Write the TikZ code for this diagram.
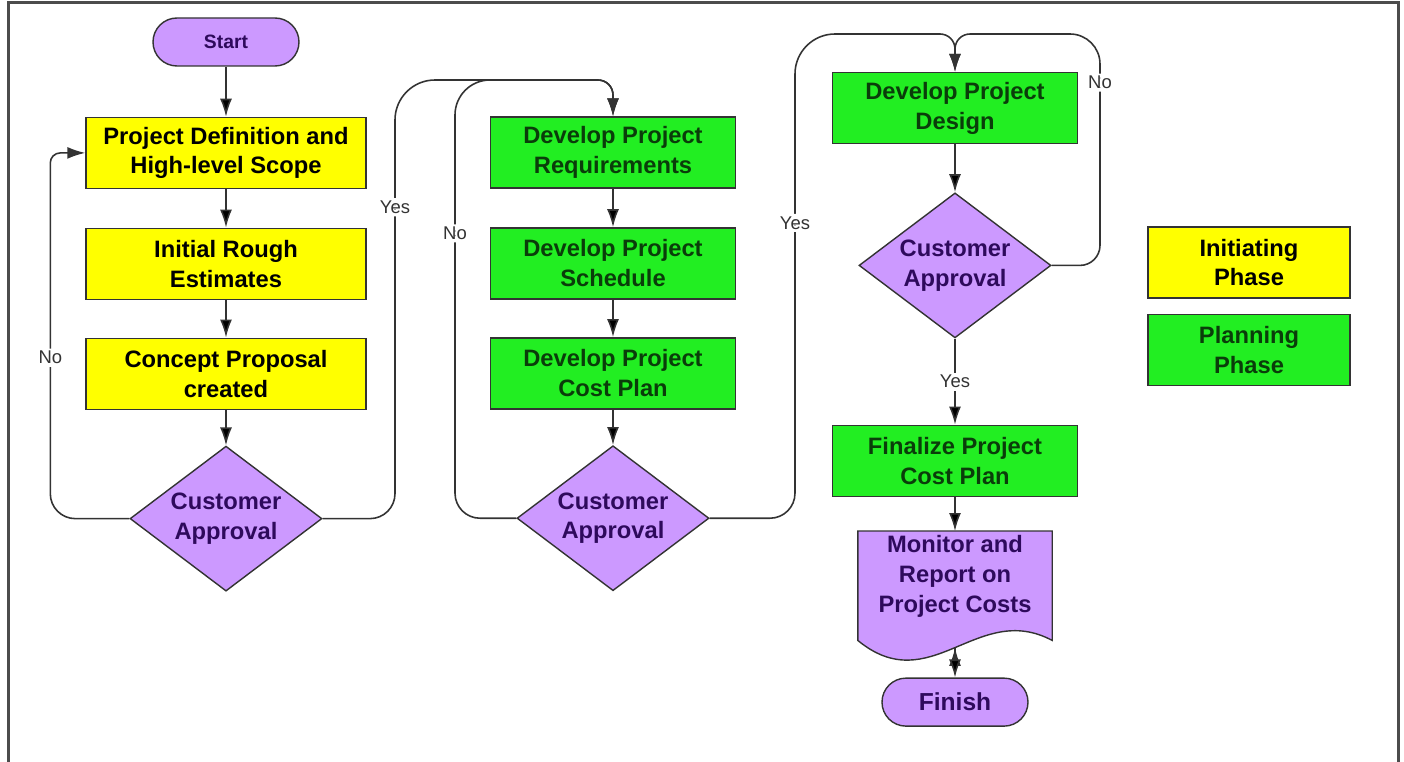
\documentclass[tikz,border=0pt]{standalone}
\usepackage{fontspec}
\setmainfont{Liberation Sans}
\usetikzlibrary{arrows.meta,positioning,shapes.geometric,backgrounds}
\definecolor{initfill}{HTML}{FFFF00}
\definecolor{planfill}{HTML}{22EE22}
\definecolor{decfill}{HTML}{CC99FF}
\definecolor{plantext}{HTML}{0A3D0A}
\definecolor{dectext}{HTML}{2E0A5C}
\definecolor{linegray}{HTML}{333333}

\begin{document}
\begin{tikzpicture}[x=0.2mm,y=0.2mm]
	\tikzset{boxfont/.style={font=\fontsize{13.5}{17}\selectfont\bfseries},
		block/.style={rectangle,draw=linegray,line width=0.8pt,align=center,minimum width=49mm,minimum height=14.2mm,boxfont},
		initbox/.style={block,fill=initfill,minimum width=56mm},
		planbox/.style={block,fill=planfill,text=plantext},
		decision/.style={diamond,draw=linegray,line width=0.8pt,fill=decfill,inner sep=0pt,minimum width=38.4mm,minimum height=29mm,
			label={[text=dectext,align=center,boxfont]center:#1}},
		terminal/.style={rectangle,rounded corners=4.8mm,draw=linegray,line width=0.8pt,fill=decfill,text=dectext,minimum width=29.2mm,minimum height=9.6mm,font=\fontsize{11}{13}\selectfont\bfseries},
		lbl/.style={fill=white,inner sep=1.5pt,font=\fontsize{10.5}{12}\selectfont,text=linegray},
		flow/.style={->,draw=linegray,line width=0.9pt},
		>={Latex[length=3.6mm,width=2.4mm]}}
	\useasboundingbox (0,0) rectangle (1404,-762);
	\draw[line width=0.6mm,black!70] (8,-762) -- (8,-3) -- (1398,-3) -- (1398,-762);
	% initiating phase
	\node [terminal] (start) at (226,-42) {Start};
	\node [initbox, below=10mm of start] (scope) {Project Definition and\\High-level Scope};
	\node [initbox, below=7.7mm of scope] (rough) {Initial Rough\\Estimates};
	\node [initbox, below=7.5mm of rough] (concept) {Concept Proposal\\created};
	\node [decision={Customer\\Approval}, below=7.1mm of concept] (ok1) {};
	% planning phase
	\node [planbox] (req) at (613,-152.5) {Develop Project\\Requirements};
	\node [planbox, below=7.7mm of req] (sched) {Develop Project\\Schedule};
	\node [planbox, below=7.5mm of sched] (cost) {Develop Project\\Cost Plan};
	\node [decision={Customer\\Approval}, below=7.1mm of cost] (ok2) {};
	\node [planbox] (design) at (955,-108) {Develop Project\\Design};
	\node [decision={Customer\\Approval}, below=9.6mm of design] (ok3) {};
	\node [planbox, below=17.2mm of ok3] (final) {Finalize Project\\Cost Plan};
	\node [block, draw=none, text=dectext, minimum width=38.6mm, minimum height=18mm, inner ysep=0.5mm, below=6.8mm of final] (monitor) {Monitor and\\Report on\\Project Costs};
	\node [terminal, font=\fontsize{14}{16}\selectfont\bfseries, below=11mm of monitor] (finish) {Finish};
	% legend
	\node [initbox, minimum width=40.4mm] (kinit) at (1249,-262.5) {Initiating\\Phase};
	\node [planbox, minimum width=40.4mm, below=3mm of kinit] (kplan) {Planning\\Phase};
	% document outline, wavy bottom
	\begin{scope}[on background layer]
		\draw[linegray,line width=0.8pt,fill=decfill] (monitor.north west) -- (monitor.north east) -- ([yshift=-3.6mm]monitor.south east)
			.. controls +(-75,40) and +(73,-60) .. ([yshift=-3.6mm]monitor.south west) -- cycle;
	\end{scope}
	\coordinate (no1) at ([xshift=-7mm]scope.west);
	\coordinate (yes1) at (395,-80);
	\coordinate (no2) at (455,-80);
	\coordinate (yes2) at (795,-34);
	\coordinate (no3) at (1100,-34);
	\path[flow] (start) edge (scope)
				(scope) edge (rough)
				(rough) edge (concept)
				(concept) edge (ok1)
				(req) edge (sched)
				(sched) edge (cost)
				(cost) edge (ok2)
				(design) edge (ok3)
				(ok3) edge node[lbl,midway] {Yes} (final)
				(final) edge (monitor)
				([yshift=-5.1mm]monitor.south) edge (finish);
	% loops back and forward
	\draw[flow,rounded corners=5mm] (ok1.west) -- (ok1.west -| no1) [rounded corners=2mm] -- node[lbl,pos=0.44] {No} (no1) -- (scope.west);
	\draw[flow,rounded corners=5mm] (ok1.east) -- (ok1.east -| yes1) [rounded corners=8mm] -- node[lbl,pos=0.71] {Yes} (yes1) [rounded corners=3mm] -- (req.north |- yes1) -- (req.north);
	\draw[flow,rounded corners=5mm] (ok2.west) -- (ok2.west -| no2) [rounded corners=7mm] -- node[lbl,pos=0.65] {No} (no2) [rounded corners=3mm] -- (req.north |- no2) -- (req.north);
	\draw[flow,rounded corners=5mm] (ok2.east) -- (ok2.east -| yes2) [rounded corners=8mm] -- node[lbl,pos=0.61] {Yes} (yes2) [rounded corners=3mm] -- (design.north |- yes2) -- (design.north);
	\draw[flow,rounded corners=4mm] (ok3.east) -- (ok3.east -| no3) [rounded corners=6mm] -- node[lbl,pos=0.79] {No} (no3) [rounded corners=3mm] -- (design.north |- no3) -- (design.north);
\end{tikzpicture}
\end{document}
